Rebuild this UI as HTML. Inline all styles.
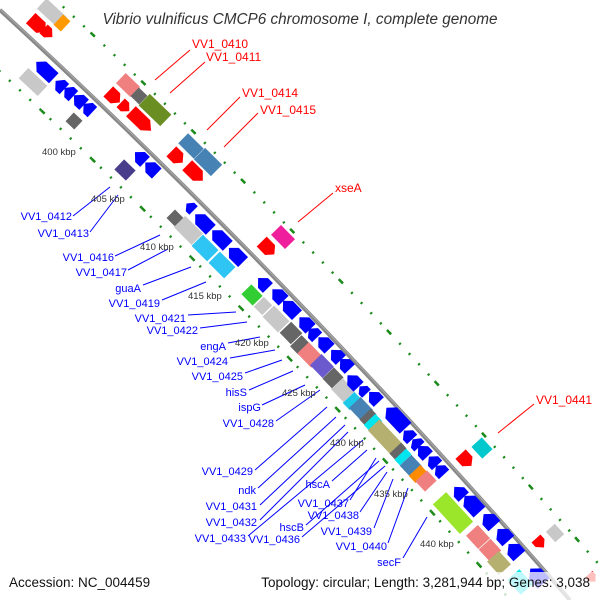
<!DOCTYPE html>
<html><head><meta charset="utf-8"><style>
html,body{margin:0;padding:0;background:#fff;width:600px;height:600px;overflow:hidden;}
svg{display:block;}
text{font-family:"Liberation Sans",sans-serif;}
</style></head><body>
<svg width="600" height="600" viewBox="0 0 600 600" xmlns="http://www.w3.org/2000/svg">
<!-- dotted tracks -->
<path d="M-32,42 Q253,304 538,632" fill="none" stroke="#1a8a1a" stroke-width="2.5" stroke-dasharray="2 12"/>
<path d="M32,-22 Q317,240 602,568" fill="none" stroke="#1a8a1a" stroke-width="2.5" stroke-dasharray="2 12"/>
<path d="M-32,42 Q253,304 538,632" fill="none" stroke="#1a8a1a" stroke-width="2.5" stroke-dasharray="5 65" stroke-dashoffset="-30"/>
<path d="M32,-22 Q317,240 602,568" fill="none" stroke="#1a8a1a" stroke-width="2.5" stroke-dasharray="5 65" stroke-dashoffset="-10"/>
<!-- backbone -->
<path d="M0,10 Q285,272 570,600" fill="none" stroke="#888" stroke-width="4"/>
<path d="M0,9 Q285,271 570,599" fill="none" stroke="#aaa" stroke-width="1"/>

<g stroke="none">
<g transform="translate(52,13) rotate(43)"><rect x="-14" y="-7" width="28" height="14" fill="#c8c8c8"/></g>
<g transform="translate(62,23) rotate(43)"><rect x="-5" y="-7" width="10" height="14" fill="#ff9900"/></g>
<g transform="translate(38,25) rotate(43)"><polygon points="-10,-7 4,-7 10,0 4,7 -10,7" fill="#f00"/></g>
<g transform="translate(48,33) rotate(43)"><polygon points="-6,-6 0,-6 6,0 0,6 -6,6" fill="#f00"/></g>
<g transform="translate(33,82) rotate(43)"><rect x="-13" y="-7" width="26" height="14" fill="#c8c8c8"/></g>
<g transform="translate(45,70) rotate(43)"><polygon points="-12,0 -5,-7 12,-7 12,7 -5,7" fill="#00f"/></g>
<g transform="translate(60,85) rotate(43)"><polygon points="-6,0 0,-7 6,-7 6,7 0,7" fill="#00f"/></g>
<g transform="translate(69,92) rotate(43)"><polygon points="-6,0 0,-7 6,-7 6,7 0,7" fill="#00f"/></g>
<g transform="translate(79,100) rotate(43)"><polygon points="-7,0 0,-7 7,-7 7,7 0,7" fill="#00f"/></g>
<g transform="translate(88,108) rotate(43)"><polygon points="-6,0 0,-7 6,-7 6,7 0,7" fill="#00f"/></g>
<g transform="translate(74,121) rotate(43)"><rect x="-6" y="-6" width="12" height="12" fill="#666"/></g>
<g transform="translate(128,85) rotate(44)"><rect x="-10" y="-7" width="20" height="14" fill="#f08080"/></g>
<g transform="translate(114,97) rotate(44)"><polygon points="-8,-7 2,-7 8,0 2,7 -8,7" fill="#f00"/></g>
<g transform="translate(125,107) rotate(44)"><polygon points="-6,-6 0,-6 6,0 0,6 -6,6" fill="#f00"/></g>
<g transform="translate(139,96) rotate(44)"><rect x="-6" y="-6" width="12" height="12" fill="#666"/></g>
<g transform="translate(155,110) rotate(44)"><rect x="-15" y="-8" width="30" height="16" fill="#6b8e23"/></g>
<g transform="translate(141,121) rotate(44)"><polygon points="-14,-7 6,-7 14,0 6,7 -14,7" fill="#f00"/></g>
<g transform="translate(191,146) rotate(44.7)"><rect x="-11" y="-7" width="22" height="14" fill="#4682b4"/></g>
<g transform="translate(208,162) rotate(44.7)"><rect x="-12" y="-8" width="24" height="16" fill="#4682b4"/></g>
<g transform="translate(177,157) rotate(44.7)"><polygon points="-8,-7 2,-7 8,0 2,7 -8,7" fill="#f00"/></g>
<g transform="translate(195,173) rotate(44.7)"><polygon points="-11,-7 4,-7 11,0 4,7 -11,7" fill="#f00"/></g>
<g transform="translate(125,170) rotate(44)"><rect x="-8" y="-7" width="16" height="14" fill="#483d8b"/></g>
<g transform="translate(140,157) rotate(44)"><polygon points="-7,0 0,-7 7,-7 7,7 0,7" fill="#00f"/></g>
<g transform="translate(151,168) rotate(44)"><polygon points="-8,0 -1,-7 8,-7 8,7 -1,7" fill="#00f"/></g>
<g transform="translate(175,218) rotate(45)"><rect x="-6" y="-6" width="12" height="12" fill="#666"/></g>
<g transform="translate(188,230) rotate(45)"><rect x="-12" y="-8" width="25" height="16" fill="#c8c8c8"/></g>
<g transform="translate(205,248) rotate(45)"><rect x="-11" y="-8" width="22" height="16" fill="#2ec4f4"/></g>
<g transform="translate(222,265) rotate(45)"><rect x="-11" y="-8" width="22" height="16" fill="#2ec4f4"/></g>
<g transform="translate(190,207) rotate(45)"><polygon points="-5,0 0,-6 5,-6 5,6 0,6" fill="#00f"/></g>
<g transform="translate(203,222) rotate(45)"><polygon points="-11,0 -4,-7 11,-7 11,7 -4,7" fill="#00f"/></g>
<g transform="translate(220,238) rotate(45)"><polygon points="-11,0 -4,-7 11,-7 11,7 -4,7" fill="#00f"/></g>
<g transform="translate(236,255) rotate(45)"><polygon points="-10,0 -3,-7 10,-7 10,7 -3,7" fill="#00f"/></g>
<g transform="translate(268,248) rotate(45.6)"><polygon points="-9,-7 3,-7 9,0 3,7 -9,7" fill="#f00"/></g>
<g transform="translate(283,237) rotate(45.6)"><rect x="-10" y="-7" width="20" height="14" fill="#ee1e9c"/></g>
<g transform="translate(252,295) rotate(45.6)"><rect x="-8" y="-7" width="16" height="14" fill="#32cd32"/></g>
<g transform="translate(263,306) rotate(45.6)"><rect x="-6" y="-7" width="12" height="14" fill="#c8c8c8"/></g>
<g transform="translate(276,319) rotate(45.6)"><rect x="-11" y="-8" width="22" height="16" fill="#c8c8c8"/></g>
<g transform="translate(291,333) rotate(46)"><rect x="-8" y="-8" width="16" height="16" fill="#666"/></g>
<g transform="translate(300,345) rotate(46)"><rect x="-6" y="-8" width="12" height="16" fill="#666"/></g>
<g transform="translate(310,355) rotate(46)"><rect x="-10" y="-8" width="20" height="16" fill="#f08080"/></g>
<g transform="translate(322,366) rotate(46)"><rect x="-9" y="-8" width="18" height="16" fill="#6a5acd"/></g>
<g transform="translate(333,378) rotate(46)"><rect x="-7" y="-8" width="14" height="16" fill="#666"/></g>
<g transform="translate(343,390) rotate(46.4)"><rect x="-9" y="-8" width="18" height="16" fill="#c8c8c8"/></g>
<g transform="translate(352,401) rotate(46.4)"><rect x="-5" y="-8" width="10" height="16" fill="#1ec8e8"/></g>
<g transform="translate(361,409) rotate(46.4)"><rect x="-9" y="-8" width="18" height="16" fill="#4682b4"/></g>
<g transform="translate(368,417) rotate(46.4)"><rect x="-4" y="-8" width="8" height="16" fill="#666"/></g>
<g transform="translate(373,423) rotate(46.4)"><rect x="-5" y="-8" width="10" height="16" fill="#00e5ee"/></g>
<g transform="translate(386,438) rotate(46.7)"><rect x="-18" y="-8" width="36" height="16" fill="#b5b070"/></g>
<g transform="translate(398,451) rotate(46.7)"><rect x="-4" y="-8" width="8" height="16" fill="#666"/></g>
<g transform="translate(403,457) rotate(46.7)"><rect x="-4" y="-8" width="8" height="16" fill="#00e5ee"/></g>
<g transform="translate(411,466) rotate(46.7)"><rect x="-8" y="-8" width="16" height="16" fill="#4682b4"/></g>
<g transform="translate(418,474) rotate(46.7)"><rect x="-5" y="-8" width="10" height="16" fill="#ff8c00"/></g>
<g transform="translate(426,481) rotate(46.7)"><rect x="-7" y="-8" width="14" height="16" fill="#f08080"/></g>
<g fill="#00f">
<g transform="translate(263,283) rotate(45.6)"><polygon points="-7,0 0,-7 7,-7 7,7 0,7"/></g>
<g transform="translate(278,295) rotate(45.6)"><polygon points="-8,0 -1,-7 8,-7 8,7 -1,7"/></g>
<g transform="translate(290,308) rotate(46)"><polygon points="-10,0 -3,-7 10,-7 10,7 -3,7"/></g>
<g transform="translate(305,323) rotate(46)"><polygon points="-8,0 -1,-7 8,-7 8,7 -1,7"/></g>
<g transform="translate(313,333) rotate(46)"><polygon points="-6,0 0,-7 6,-7 6,7 0,7"/></g>
<g transform="translate(324,343) rotate(46)"><polygon points="-8,0 -1,-7 8,-7 8,7 -1,7"/></g>
<g transform="translate(336,355) rotate(46.4)"><polygon points="-7,0 0,-7 7,-7 7,7 0,7"/></g>
<g transform="translate(345,364) rotate(46.4)"><polygon points="-7,0 0,-7 7,-7 7,7 0,7"/></g>
<g transform="translate(353,381) rotate(46.4)"><polygon points="-8,0 -1,-7 8,-7 8,7 -1,7"/></g>
<g transform="translate(363,390) rotate(46.4)"><polygon points="-5,0 0,-6 5,-6 5,6 0,6"/></g>
<g transform="translate(374,397) rotate(46.4)"><polygon points="-7,0 0,-7 7,-7 7,7 0,7"/></g>
<g transform="translate(396,418) rotate(46.7)"><polygon points="-14,0 -7,-8 14,-8 14,8 -7,8"/></g>
<g transform="translate(408,435) rotate(46.7)"><polygon points="-6,0 0,-7 6,-7 6,7 0,7"/></g>
<g transform="translate(416,443) rotate(46.7)"><polygon points="-5,0 0,-7 5,-7 5,7 0,7"/></g>
<g transform="translate(423,451) rotate(46.7)"><polygon points="-7,0 0,-7 7,-7 7,7 0,7"/></g>
<g transform="translate(433,461) rotate(47)"><polygon points="-6,0 0,-7 6,-7 6,7 0,7"/></g>
<g transform="translate(440,470) rotate(47)"><polygon points="-6,0 0,-7 6,-7 6,7 0,7"/></g>
<g transform="translate(459,492) rotate(47.5)"><polygon points="-7,0 0,-7 7,-7 7,7 0,7"/></g>
<g transform="translate(472,504) rotate(47.5)"><polygon points="-11,0 -4,-8 11,-8 11,8 -4,8"/></g>
<g transform="translate(489,520) rotate(47.5)"><polygon points="-8,0 -1,-8 8,-8 8,8 -1,8"/></g>
<g transform="translate(503,535) rotate(48)"><polygon points="-8,0 -1,-8 8,-8 8,8 -1,8"/></g>
<g transform="translate(514,550) rotate(48)"><polygon points="-8,0 -1,-8 8,-8 8,8 -1,8"/></g>
<g transform="translate(537,576) rotate(48)"><polygon points="-10,0 -3,-8 10,-8 10,8 -3,8"/></g>
</g>
<g transform="translate(466,460) rotate(47.5)"><polygon points="-8,-7 2,-7 8,0 2,7 -8,7" fill="#f00"/></g>
<g transform="translate(482,448) rotate(47.5)"><rect x="-8" y="-7" width="16" height="14" fill="#00c8cc"/></g>
<g transform="translate(540,543) rotate(48)"><polygon points="-6,-6 0,-6 6,0 0,6 -6,6" fill="#f00"/></g>
<g transform="translate(555,533) rotate(48)"><rect x="-7" y="-6" width="14" height="12" fill="#c8c8c8"/></g>
<g transform="translate(453,513) rotate(47.5)"><rect x="-20" y="-9" width="40" height="18" fill="#9be52a"/></g>
<g transform="translate(478,537) rotate(47.5)"><rect x="-9" y="-8" width="18" height="16" fill="#f08080"/></g>
<g transform="translate(490,550) rotate(47.5)"><rect x="-8" y="-8" width="16" height="16" fill="#f08080"/></g>
<g transform="translate(499,563) rotate(48)"><rect x="-9" y="-8" width="18" height="16" fill="#b5b070"/></g>
<g transform="translate(520,582) rotate(48)"><rect x="-10" y="-8" width="20" height="16" fill="#00e5ee"/></g>
<g transform="translate(592,578) rotate(48)"><polygon points="-5,-5 0,-5 5,0 0,5 -5,5" fill="#f00"/></g>
</g>

<g stroke="#f00" stroke-width="1">
<line x1="190" y1="50" x2="155" y2="80"/><line x1="205" y1="62" x2="170" y2="93"/>
<line x1="240" y1="97" x2="207" y2="130"/><line x1="258" y1="113" x2="224" y2="147"/>
<line x1="333" y1="193" x2="298" y2="222"/><line x1="534" y1="404" x2="498" y2="433"/>
</g>
<g stroke="#00f" stroke-width="1">
<line x1="73" y1="216" x2="110" y2="187"/><line x1="90" y1="232" x2="118" y2="195"/>
<line x1="115" y1="256" x2="160" y2="235"/><line x1="128" y1="270" x2="168" y2="249"/>
<line x1="143" y1="285" x2="191" y2="267"/><line x1="162" y1="300" x2="206" y2="282"/>
<line x1="188" y1="315" x2="236" y2="312"/><line x1="200" y1="328" x2="247" y2="322"/>
<line x1="228" y1="343" x2="260" y2="337"/><line x1="230" y1="358" x2="275" y2="350"/>
<line x1="245" y1="373" x2="282" y2="360"/><line x1="249" y1="390" x2="293" y2="371"/>
<line x1="262" y1="405" x2="305" y2="385"/><line x1="276" y1="421" x2="320" y2="390"/>
<line x1="255" y1="470" x2="327" y2="407"/><line x1="258" y1="488" x2="336" y2="417"/>
<line x1="260" y1="505" x2="345" y2="425"/><line x1="260" y1="520" x2="348" y2="432"/>
<line x1="248" y1="536" x2="363" y2="440"/><line x1="332" y1="481" x2="367" y2="450"/>
<line x1="350" y1="500" x2="376" y2="458"/><line x1="306" y1="525" x2="379" y2="461"/>
<line x1="302" y1="537" x2="385" y2="466"/><line x1="360" y1="512" x2="387" y2="472"/>
<line x1="374" y1="528" x2="393" y2="479"/><line x1="388" y1="543" x2="408" y2="488"/>
<line x1="403" y1="558" x2="427" y2="517"/>
</g>

<g font-size="9.5" fill="#333">
<text x="42" y="155">400 kbp</text><text x="91" y="202">405 kbp</text>
<text x="140" y="250">410 kbp</text><text x="188" y="299">415 kbp</text>
<text x="235" y="346">420 kbp</text><text x="282" y="396">425 kbp</text>
<text x="330" y="446">430 kbp</text><text x="374" y="497">435 kbp</text>
<text x="420" y="547">440 kbp</text>
</g>

<g font-size="12" fill="#f00">
<text x="192" y="48">VV1_0410</text><text x="206" y="61">VV1_0411</text>
<text x="242" y="97">VV1_0414</text><text x="260" y="114">VV1_0415</text>
<text x="335" y="192">xseA</text><text x="536" y="404">VV1_0441</text>
</g>
<g font-size="11" fill="#00f" text-anchor="end">
<text x="72" y="220">VV1_0412</text><text x="89" y="237">VV1_0413</text>
<text x="114" y="261">VV1_0416</text><text x="127" y="276">VV1_0417</text>
<text x="141" y="292">guaA</text><text x="160" y="307">VV1_0419</text>
<text x="186" y="322">VV1_0421</text><text x="198" y="334">VV1_0422</text>
<text x="226" y="350">engA</text><text x="228" y="365">VV1_0424</text>
<text x="243" y="380">VV1_0425</text><text x="247" y="396">hisS</text>
<text x="261" y="411">ispG</text><text x="274" y="427">VV1_0428</text>
<text x="253" y="475">VV1_0429</text><text x="256" y="494">ndk</text>
<text x="257" y="510">VV1_0431</text><text x="257" y="526">VV1_0432</text>
<text x="246" y="542">VV1_0433</text><text x="330" y="488">hscA</text>
<text x="349" y="507">VV1_0437</text><text x="304" y="531">hscB</text>
<text x="300" y="543">VV1_0436</text><text x="359" y="519">VV1_0438</text>
<text x="372" y="535">VV1_0439</text><text x="387" y="550">VV1_0440</text>
<text x="401" y="566">secF</text>
</g>

<text x="300" y="24" font-size="15.3" font-style="italic" fill="#333" text-anchor="middle">Vibrio vulnificus CMCP6 chromosome I, complete genome</text>

<rect x="0" y="572" width="600" height="28" fill="#fff" opacity="0.75"/>
<text x="9" y="587" font-size="13.5" fill="#111">Accession: NC_004459</text>
<text x="590" y="587" font-size="13.5" fill="#111" text-anchor="end">Topology: circular; Length: 3,281,944 bp; Genes: 3,038</text>
</svg>
</body></html>
